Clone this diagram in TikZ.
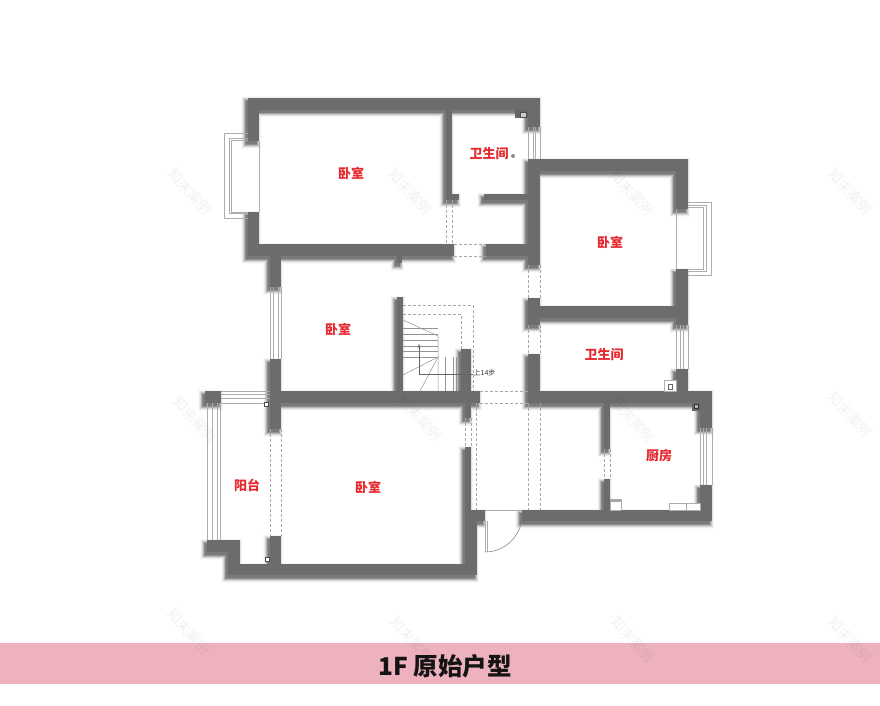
\documentclass[tikz,border=0pt]{standalone}
\usepackage{fontspec}
\newfontfamily\cjk{Noto Sans CJK SC}
\usetikzlibrary{arrows.meta}
\definecolor{wallc}{HTML}{6C6C6C}
\definecolor{linec}{HTML}{AEAEAE}
\definecolor{dashc}{HTML}{A8A8A8}
\definecolor{labelc}{HTML}{E6282F}
\definecolor{barc}{HTML}{EDB2BE}
\def\ex{0}\def\ox{0}\def\oy{0}
\newcommand\WR[4]{\fill ({#1-\ex+\ox},{#2-\ex+\oy}) rectangle ({#3+\ex+\ox},{#4+\ex+\oy});}
\newcommand\allwalls{%
 % upper-left bedroom
 \WR{248}{98}{540}{110}\WR{248}{98}{259}{141}\WR{248}{212}{259}{256}\WR{248}{244}{454}{256}
 \WR{270}{256}{281}{287}\WR{397}{256}{402}{263}
 \WR{446}{110}{452}{200}\WR{446}{194}{459}{200}
 % upper bath and right bedroom
 \WR{528}{110}{540}{127}\WR{528}{159}{688}{171}\WR{676}{159}{688}{209}\WR{676}{269}{688}{325}
 \WR{528}{159}{540}{265}\WR{484}{194}{528}{200}\WR{486}{244}{528}{256}
 \WR{528}{298}{540}{325}\WR{540}{306}{688}{318}
 % lower right
 \WR{528}{354}{540}{403}\WR{540}{391}{712}{403}\WR{676}{369}{688}{391}
 \WR{700}{391}{712}{428}\WR{700}{485}{712}{521}\WR{522}{510}{712}{521}
 \WR{604}{403}{610}{449}\WR{604}{479}{610}{510}
 % stairs
 \WR{397}{297}{403}{391}\WR{461}{349}{471}{391}
 % lower left
 \WR{270}{359}{281}{429}\WR{281}{391}{480}{403}\WR{465}{403}{471}{418}
 \WR{465}{447}{471}{564}\WR{471}{510}{477}{575}\WR{471}{510}{485}{521}
 \WR{228}{564}{477}{575}\WR{228}{552}{240}{575}\WR{207}{540}{240}{552}
 \WR{270}{536}{281}{564}\WR{205}{391}{221}{403}%
}
\begin{document}
\begin{tikzpicture}[x=1pt,y=-1pt,
  winline/.style={draw=linec,line width=0.5pt},
  dashline/.style={draw=dashc,line width=0.55pt,dash pattern=on 3pt off 2pt},
  roomlabel/.style={font=\cjk\bfseries\fontsize{13}{14}\selectfont,text=labelc,inner sep=0pt},
  watermark/.style={font=\cjk\fontsize{14}{15}\selectfont,text=black,text opacity=0.055,rotate=-48,inner sep=0pt},
  fixture/.style={draw=linec,line width=0.6pt,fill=white}]
\useasboundingbox (0,0) rectangle (880,706);
\fill[white] (0,0) rectangle (880,706);
% title bar
\node[fill=barc,minimum width=880pt,minimum height=41pt,inner sep=0pt,anchor=north west] (bar) at (0,643) {};
% soft wall shadow, falling to the lower left
\def\ox{-2.5}\def\oy{3}
\foreach \ex/\sc in {4.5/2,4/4,3.5/7,3/11,2.5/16,2/22,1.5/29,1/36,0.5/44,0/52}{
  \begin{scope}[fill=black!\sc]\allwalls\end{scope}
}
% walls
\def\ox{0}\def\oy{0}\def\ex{0}
\begin{scope}[fill=wallc]\allwalls\end{scope}
% windows
\draw[winline] (248,133) -- (224.5,133) -- (224.5,218) -- (248,218);
\draw[winline] (248,138) -- (229,138) -- (229,213) -- (248,213);
\draw[winline] (248,140) -- (231,140) -- (231,212) -- (248,212);
\draw[winline] (259,141) -- (259,212);
\draw[winline] (688,202) -- (711,202) -- (711,275) -- (688,275);
\draw[winline] (688,205) -- (706,205) -- (706,271) -- (688,271);
\draw[winline] (688,207) -- (703,207) -- (703,269) -- (688,269);
\draw[winline] (676,209) -- (676,269);
\foreach \wx in {270,273,278,281} \draw[winline] (\wx,287) -- (\wx,359);
\foreach \wx in {528,533,535,540} \draw[winline] (\wx,127) -- (\wx,159);
\foreach \wx in {676,680,683,688} \draw[winline] (\wx,325) -- (\wx,369);
\foreach \wx in {700,703,706,712} \draw[winline] (\wx,428) -- (\wx,485);
\foreach \wy in {391,394,398,403} \draw[winline] (221,\wy) -- (270,\wy);
\foreach \wx in {207,212,217,220} \draw[winline] (\wx,403) -- (\wx,540);
% dashed openings
\foreach \wx in {446,452} \draw[dashline] (\wx,200) -- (\wx,244);
\foreach \wy in {244,256} \draw[dashline] (454,\wy) -- (486,\wy);
\foreach \wx in {528,540} {\draw[dashline] (\wx,265) -- (\wx,298);\draw[dashline] (\wx,325) -- (\wx,354);\draw[dashline] (\wx,403) -- (\wx,510);}
\foreach \wy in {391,403} \draw[dashline] (480,\wy) -- (528,\wy);
\foreach \wx in {465,471} \draw[dashline] (\wx,418) -- (\wx,447);
\draw[dashline] (476.5,403) -- (476.5,510);
\foreach \wx in {270,281} \draw[dashline] (\wx,429) -- (\wx,536);
\foreach \wx in {604,610} \draw[dashline] (\wx,449) -- (\wx,479);
\draw[dashline] (403,305) -- (473,305) -- (473,391);
\draw[dashline] (403,314) -- (461,314) -- (461,349);
% stairs
\draw[winline,draw=black!42] (403,320) -- (438,336) -- (438,391);
\foreach \wy in {328,334,340,346,351,357} \draw[winline,draw=black!42] (403,\wy) -- (438,\wy);
\foreach \wx in {445,453,456,458} \draw[winline,draw=black!42] (\wx,357) -- (\wx,391);
\draw[winline,draw=black!42] (403,375) -- (438,357) -- (420,391);
\draw[line width=0.5pt,draw=black!60,-{Stealth[length=4pt,width=3pt]}] (473,374) -- (419,374) -- (419,344);
\node[font=\cjk\fontsize{7}{8}\selectfont,text=black!80,inner sep=0pt,anchor=west] (updown) at (473.5,373) {上14步};
% door
\draw[winline] (485,510) -- (522,510);
\draw[winline] (485,521) -- (485,552) (487,521) -- (487,552);
\draw[draw=black!50,line width=0.55pt] (485,552) arc[start angle=90,end angle=0,radius=37];
% fixtures
\fill[black!60] (515,110) rectangle (528,118);
\draw[fill=black!20,draw=black!70,line width=0.4pt] (520,112) rectangle (526,117);
\fill[black!45] (513,156) circle[radius=2];
\draw[fixture] (664,380) rectangle (676,391);
\draw[draw=black!60,line width=0.5pt] (668,384) rectangle (672,389);
\fill[black!60] (692,403) rectangle (700,411);
\draw[draw=black!80,fill=black!30,line width=0.4pt] (694,404.5) rectangle (698,408.5);
\draw[fixture] (610,499) rectangle (621,510);
\fill[black!35] (610,499) rectangle (621,502);
\draw[fixture] (669,503) rectangle (700,510);
\draw[draw=linec,line width=0.5pt] (686,503) -- (686,510);
\draw[draw=black!70,line width=0.5pt,fill=white] (264.5,402.5) rectangle (268,406);
\draw[draw=black!70,line width=0.5pt,fill=white] (265,557) rectangle (269,561);
% room labels
\node[roomlabel] (r1) at (351,173) {卧室};
\node[roomlabel] (r2) at (489,154) {卫生间};
\node[roomlabel] (r3) at (610,242) {卧室};
\node[roomlabel] (r4) at (338,329) {卧室};
\node[roomlabel] (r5) at (604,355) {卫生间};
\node[roomlabel] (r6) at (247,485) {阳台};
\node[roomlabel] (r7) at (368,487) {卧室};
\node[roomlabel] (r8) at (659,456) {厨房};
\node[font=\cjk\bfseries\fontsize{24.5}{26}\selectfont,text=black!92,inner sep=0pt] (title) at (445,666) {1F 原始户型};
% watermarks
\foreach \n/\wx/\wy in {a/190/192,b/410/192,c/632/193,d/850/192,e/195/420,f/420/418,g/633/420,h/850/415,i/189/632,j/412/640,k/633/640,l/850/640}
  \node[watermark] (wm\n) at (\wx,\wy) {知末案例};
\end{tikzpicture}
\end{document}
